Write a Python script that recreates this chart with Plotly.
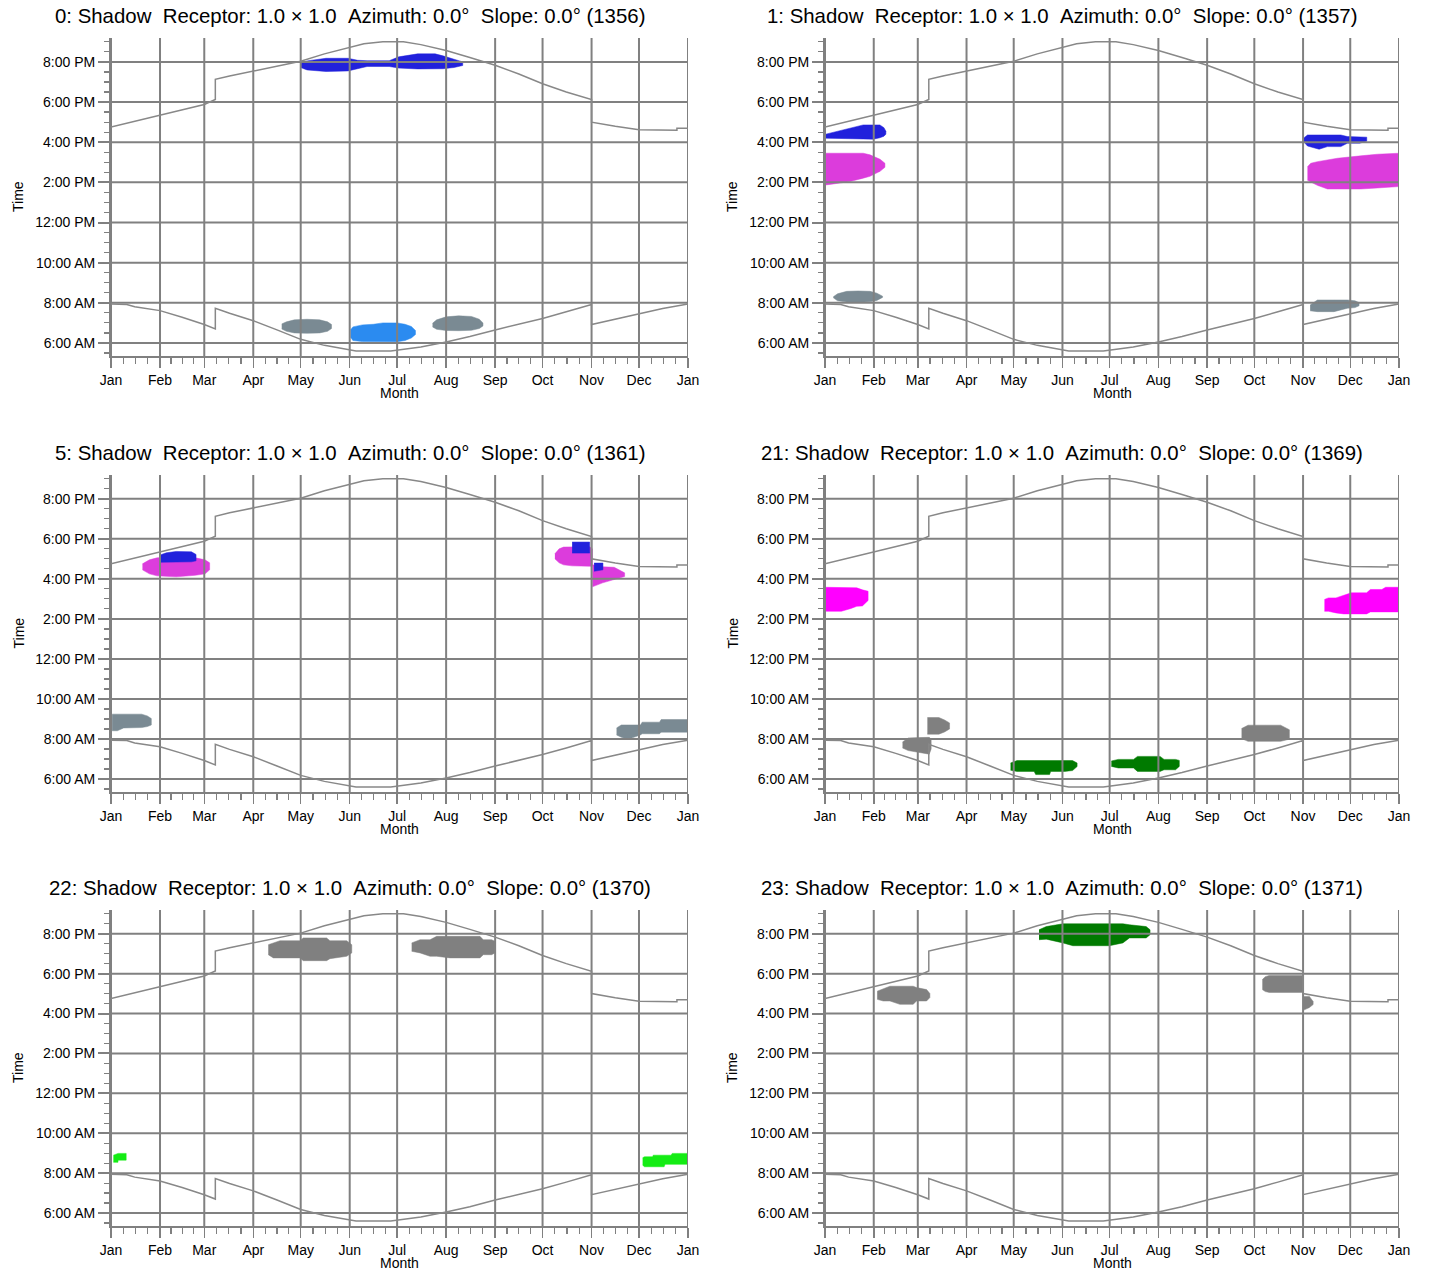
import plotly.graph_objects as go

W, H = 1429, 1272
OFF = 0  # page margin removed below via post_script

# ---------------- axis data ----------------
MONTH_DAYS = [0, 31, 59, 90, 120, 151, 181, 212, 243, 273, 304, 334, 365]
MONTH_LABELS = ['Jan', 'Feb', 'Mar', 'Apr', 'May', 'Jun', 'Jul', 'Aug', 'Sep', 'Oct', 'Nov', 'Dec', 'Jan']
HOUR_TICKS = [6, 8, 10, 12, 14, 16, 18, 20]
HOUR_LABELS = ['6:00 AM', '8:00 AM', '10:00 AM', '12:00 PM', '2:00 PM', '4:00 PM', '6:00 PM', '8:00 PM']
Y_RANGE = [5.35, 21.19]

# ---------------- sunrise / sunset (hours) ----------------
SUNSET_DAY = [0, 15, 31, 45, 59, 66, 66, 75, 90, 105, 120, 135, 151, 160, 172, 185, 196, 212, 227,
              243, 258, 273, 288, 304, 304, 319, 334, 349, 358, 358, 365]
SUNSET_HR = [16.75, 17.03, 17.36, 17.62, 17.88, 18.13, 19.13, 19.30, 19.54, 19.78, 20.03, 20.40, 20.74,
             20.90, 21.0, 21.0, 20.86, 20.57, 20.22, 19.83, 19.40, 18.91, 18.50, 18.12, 17.00, 16.79,
             16.62, 16.59, 16.59, 16.69, 16.69]
SUNRISE_DAY = [0, 10, 15, 31, 45, 59, 66, 66, 75, 90, 105, 120, 135, 148, 155, 177, 181, 196, 212,
               227, 243, 258, 273, 288, 304, 304, 319, 334, 349, 365]
SUNRISE_HR = [7.94, 7.92, 7.80, 7.61, 7.28, 6.92, 6.70, 7.73, 7.48, 7.11, 6.65, 6.18, 5.88, 5.68, 5.60,
              5.60, 5.64, 5.80, 6.05, 6.32, 6.65, 6.92, 7.22, 7.55, 7.92, 6.92, 7.18, 7.45, 7.72, 7.94]

# ---------------- shadow periods: day-of-year, end hour (top), start hour (bottom) ----------------
# panel 0 (1356)
P0_BLUE_DAY = [120, 124, 136, 150, 156, 162, 176, 182, 194, 205, 210, 217, 222.5]
P0_BLUE_TOP = [19.92, 20.05, 20.18, 20.18, 20.08, 20.06, 20.06, 20.25, 20.40, 20.40, 20.30, 20.15, 20.0]
P0_BLUE_BOT = [19.72, 19.60, 19.52, 19.55, 19.66, 19.77, 19.77, 19.69, 19.65, 19.65, 19.66, 19.72, 19.82]
P0_GRAY1_DAY = [108, 111, 116, 124, 132, 137, 139.5]
P0_GRAY1_TOP = [6.95, 7.05, 7.15, 7.18, 7.15, 7.05, 6.92]
P0_GRAY1_BOT = [6.70, 6.58, 6.50, 6.48, 6.50, 6.58, 6.72]
P0_LBLUE_DAY = [151.5, 153, 159, 166, 172, 181, 186, 190, 192.6]
P0_LBLUE_TOP = [6.65, 6.80, 6.90, 6.93, 7.0, 7.0, 6.93, 6.82, 6.62]
P0_LBLUE_BOT = [6.30, 6.12, 6.07, 6.06, 6.06, 6.06, 6.12, 6.25, 6.42]
P0_GRAY2_DAY = [203.4, 206, 212, 220, 228, 233, 235.3]
P0_GRAY2_TOP = [6.98, 7.15, 7.30, 7.35, 7.32, 7.18, 7.00]
P0_GRAY2_BOT = [6.80, 6.68, 6.62, 6.61, 6.63, 6.72, 6.85]

# panel 1 (1357)
P1_BLUE1_DAY = [0.5, 9.5, 18, 24.3, 30.7, 34.9, 37.5, 38.7]
P1_BLUE1_TOP = [16.40, 16.56, 16.73, 16.86, 16.86, 16.86, 16.72, 16.55]
P1_BLUE1_BOT = [16.20, 16.20, 16.18, 16.16, 16.15, 16.22, 16.30, 16.40]
P1_MAG1_DAY = [0.5, 5.3, 15.9, 24.3, 28.6, 32.8, 35, 38.1]
P1_MAG1_TOP = [15.45, 15.45, 15.45, 15.45, 15.37, 15.25, 15.15, 14.95]
P1_MAG1_BOT = [13.87, 13.92, 14.04, 14.21, 14.30, 14.45, 14.55, 14.75]
P1_GRAY1_DAY = [5.3, 8, 13.8, 21, 28.6, 33, 36.6]
P1_GRAY1_TOP = [8.30, 8.45, 8.57, 8.59, 8.57, 8.48, 8.33]
P1_GRAY1_BOT = [8.25, 8.10, 8.04, 8.03, 8.05, 8.12, 8.27]
P1_BLUE2_DAY = [304.3, 306.8, 314.2, 319.5, 328, 332.2, 340, 344.5]
P1_BLUE2_TOP = [16.20, 16.36, 16.36, 16.36, 16.36, 16.28, 16.28, 16.25]
P1_BLUE2_BOT = [16.03, 15.81, 15.65, 15.78, 15.78, 15.95, 15.95, 16.05]
P1_MAG2_DAY = [306.8, 308.9, 313.1, 319.5, 325.8, 340.7, 351.2, 365]
P1_MAG2_TOP = [14.78, 14.95, 15.03, 15.12, 15.20, 15.32, 15.40, 15.45]
P1_MAG2_BOT = [14.10, 14.04, 13.85, 13.67, 13.67, 13.67, 13.72, 13.79]
P1_GRAY2_DAY = [308.5, 313.1, 323.7, 332.2, 337, 339.6]
P1_GRAY2_TOP = [7.89, 8.14, 8.14, 8.14, 8.10, 8.01]
P1_GRAY2_BOT = [7.60, 7.56, 7.56, 7.73, 7.76, 7.85]

# panel 5 (1361)
P5_MAG1_DAY = [19.9, 24.3, 29.1, 41.2, 53.4, 59.5, 62.4]
P5_MAG1_TOP = [16.75, 16.95, 17.05, 17.10, 17.05, 16.95, 16.80]
P5_MAG1_BOT = [16.45, 16.25, 16.15, 16.10, 16.18, 16.25, 16.45]
P5_BLUE1_DAY = [31.6, 35, 41.2, 50.9, 53.8]
P5_BLUE1_TOP = [17.21, 17.30, 17.37, 17.35, 17.22]
P5_BLUE1_BOT = [16.83, 16.83, 16.85, 16.85, 16.90]
P5_MAG2_DAY = [280.8, 283.5, 286.3, 291.7, 302.8, 304.5]
P5_MAG2_TOP = [17.25, 17.50, 17.59, 17.60, 17.60, 17.50]
P5_MAG2_BOT = [17.00, 16.80, 16.70, 16.65, 16.63, 16.63]
P5_MAG3_DAY = [304.5, 311, 318.3, 324.9]
P5_MAG3_TOP = [16.71, 16.60, 16.58, 16.30]
P5_MAG3_BOT = [15.60, 15.80, 15.96, 16.12]
P5_BLUE2_DAY = [291.7, 302.8]
P5_BLUE2_TOP = [17.84, 17.84]
P5_BLUE2_BOT = [17.29, 17.29]
P5_BLUE3_DAY = [305.6, 311.2]
P5_BLUE3_TOP = [16.79, 16.79]
P5_BLUE3_BOT = [16.38, 16.45]
P5_GRAY1_DAY = [0.7, 4, 8, 19.4, 23, 25.5]
P5_GRAY1_TOP = [9.24, 9.24, 9.24, 9.24, 9.15, 9.02]
P5_GRAY1_BOT = [8.41, 8.41, 8.55, 8.57, 8.62, 8.70]
P5_GRAY2_DAY = [319.8, 322.8, 327, 334.9, 336, 347, 348, 365]
P5_GRAY2_TOP = [8.55, 8.70, 8.70, 8.70, 8.84, 8.84, 8.97, 8.97]
P5_GRAY2_BOT = [8.20, 8.09, 7.98, 8.20, 8.26, 8.26, 8.34, 8.34]

# panel 21 (1369)
P21_MAG1_DAY = [0.5, 10.4, 16.5, 20.2, 23.8, 27.4]
P21_MAG1_TOP = [15.58, 15.58, 15.58, 15.55, 15.45, 15.38]
P21_MAG1_BOT = [14.38, 14.38, 14.52, 14.63, 14.65, 14.92]
P21_MAG2_DAY = [317.6, 320.1, 324.9, 329.8, 334.6, 344.4, 346.8, 354.1, 356.5, 365]
P21_MAG2_TOP = [14.97, 15.05, 15.05, 15.18, 15.30, 15.30, 15.47, 15.47, 15.58, 15.58]
P21_MAG2_BOT = [14.38, 14.38, 14.30, 14.25, 14.25, 14.25, 14.35, 14.35, 14.35, 14.35]
P21_GRAY1_DAY = [65.1, 72.4, 76, 79.2]
P21_GRAY1_TOP = [9.07, 9.07, 8.95, 8.80]
P21_GRAY1_BOT = [8.24, 8.24, 8.35, 8.50]
P21_GRAY2_DAY = [49.3, 52.9, 60.2, 66.3, 67.5]
P21_GRAY2_TOP = [7.85, 8.05, 8.07, 8.08, 8.00]
P21_GRAY2_BOT = [7.55, 7.42, 7.33, 7.24, 7.50]
P21_GRAY3_DAY = [264.9, 269, 280, 289.7, 295.3]
P21_GRAY3_TOP = [8.52, 8.69, 8.69, 8.69, 8.46]
P21_GRAY3_BOT = [8.02, 7.88, 7.88, 7.88, 7.99]
P21_GRN1_DAY = [118, 122.1, 133, 134, 142.8, 143.5, 152.5, 157.4, 160.3]
P21_GRN1_TOP = [6.80, 6.92, 6.92, 6.92, 6.92, 6.92, 6.92, 6.92, 6.80]
P21_GRN1_BOT = [6.44, 6.38, 6.38, 6.22, 6.22, 6.38, 6.38, 6.42, 6.62]
P21_GRN2_DAY = [182.1, 186.5, 196.2, 198.7, 213.1, 215.6, 222.9, 225.3]
P21_GRN2_TOP = [6.90, 6.98, 6.98, 7.13, 7.13, 6.98, 6.98, 6.93]
P21_GRN2_BOT = [6.63, 6.55, 6.55, 6.38, 6.38, 6.46, 6.46, 6.63]

# panel 22 (1370)
P22_GRAY1_DAY = [99.5, 102.7, 106.9, 119.6, 121.6, 136.4, 138.5, 149.1, 152.3]
P22_GRAY1_TOP = [19.45, 19.55, 19.65, 19.65, 19.79, 19.79, 19.65, 19.65, 19.45]
P22_GRAY1_BOT = [18.95, 18.79, 18.79, 18.79, 18.65, 18.65, 18.75, 18.87, 19.04]
P22_GRAY2_DAY = [190.2, 195.5, 201.8, 206, 214.4, 233.4, 235.5, 240.8, 242.9]
P22_GRAY2_TOP = [19.54, 19.70, 19.70, 19.87, 19.87, 19.87, 19.70, 19.70, 19.62]
P22_GRAY2_BOT = [19.12, 19.04, 18.87, 18.87, 18.79, 18.79, 18.95, 18.95, 19.04]
P22_GRN1_DAY = [1.5, 4.4, 4.5, 9.6]
P22_GRN1_TOP = [8.90, 8.99, 8.99, 8.99]
P22_GRN1_BOT = [8.54, 8.54, 8.65, 8.65]
P22_GRN2_DAY = [336.3, 337.5, 342.6, 343, 349.9, 350.5, 354.3, 355, 365]
P22_GRN2_TOP = [8.77, 8.82, 8.82, 8.90, 8.90, 8.90, 8.90, 8.99, 8.99]
P22_GRN2_BOT = [8.40, 8.32, 8.32, 8.32, 8.32, 8.44, 8.44, 8.44, 8.44]

# panel 23 (1371)
P23_GRN_DAY = [136.1, 140.7, 151.3, 157.6, 180.9, 189.4, 193.6, 204.2, 206.7]
P23_GRN_TOP = [20.20, 20.36, 20.50, 20.50, 20.50, 20.50, 20.45, 20.36, 20.20]
P23_GRN_BOT = [19.70, 19.73, 19.54, 19.40, 19.40, 19.54, 19.79, 19.79, 19.95]
P23_GRAY1_DAY = [33.2, 37, 41.3, 47.6, 56.1, 58.2, 64.6, 66.7]
P23_GRAY1_TOP = [17.12, 17.25, 17.37, 17.37, 17.37, 17.30, 17.20, 17.00]
P23_GRAY1_BOT = [16.71, 16.63, 16.63, 16.46, 16.46, 16.63, 16.63, 16.80]
P23_GRAY2_DAY = [278.1, 280, 282.5, 304.1]
P23_GRAY2_TOP = [17.70, 17.85, 17.91, 17.91]
P23_GRAY2_BOT = [17.20, 17.10, 17.06, 17.06]
P23_GRAY3_DAY = [304.1, 308, 310.4]
P23_GRAY3_TOP = [16.86, 16.86, 16.60]
P23_GRAY3_BOT = [16.16, 16.30, 16.45]

# ---------------- colours ----------------
BLUE = '#2121DC'
LBLUE = '#2B8BF0'
SLATE = '#7A8A93'
MAG = '#DC3CDC'
MAG2 = '#FF00FF'
GRAY = '#808080'
DGREEN = '#007A00'
LGREEN = '#14EC14'
GRID = '#808080'
SUNC = '#888888'

TITLE_FMT = "{}: Shadow\u00a0\u00a0Receptor: 1.0 \u00d7 1.0\u00a0\u00a0Azimuth: 0.0\u00b0\u00a0\u00a0Slope: 0.0\u00b0 ({})"

PANELS = [
    dict(num=0, rid=1356, blobs=[
        (P0_BLUE_DAY, P0_BLUE_TOP, P0_BLUE_BOT, BLUE),
        (P0_GRAY1_DAY, P0_GRAY1_TOP, P0_GRAY1_BOT, SLATE),
        (P0_LBLUE_DAY, P0_LBLUE_TOP, P0_LBLUE_BOT, LBLUE),
        (P0_GRAY2_DAY, P0_GRAY2_TOP, P0_GRAY2_BOT, SLATE)]),
    dict(num=1, rid=1357, blobs=[
        (P1_BLUE1_DAY, P1_BLUE1_TOP, P1_BLUE1_BOT, BLUE),
        (P1_MAG1_DAY, P1_MAG1_TOP, P1_MAG1_BOT, MAG),
        (P1_GRAY1_DAY, P1_GRAY1_TOP, P1_GRAY1_BOT, SLATE),
        (P1_BLUE2_DAY, P1_BLUE2_TOP, P1_BLUE2_BOT, BLUE),
        (P1_MAG2_DAY, P1_MAG2_TOP, P1_MAG2_BOT, MAG),
        (P1_GRAY2_DAY, P1_GRAY2_TOP, P1_GRAY2_BOT, SLATE)]),
    dict(num=5, rid=1361, blobs=[
        (P5_MAG1_DAY, P5_MAG1_TOP, P5_MAG1_BOT, MAG),
        (P5_BLUE1_DAY, P5_BLUE1_TOP, P5_BLUE1_BOT, BLUE),
        (P5_MAG2_DAY, P5_MAG2_TOP, P5_MAG2_BOT, MAG),
        (P5_MAG3_DAY, P5_MAG3_TOP, P5_MAG3_BOT, MAG),
        (P5_BLUE2_DAY, P5_BLUE2_TOP, P5_BLUE2_BOT, BLUE),
        (P5_BLUE3_DAY, P5_BLUE3_TOP, P5_BLUE3_BOT, BLUE),
        (P5_GRAY1_DAY, P5_GRAY1_TOP, P5_GRAY1_BOT, SLATE),
        (P5_GRAY2_DAY, P5_GRAY2_TOP, P5_GRAY2_BOT, SLATE)]),
    dict(num=21, rid=1369, blobs=[
        (P21_MAG1_DAY, P21_MAG1_TOP, P21_MAG1_BOT, MAG2),
        (P21_MAG2_DAY, P21_MAG2_TOP, P21_MAG2_BOT, MAG2),
        (P21_GRAY1_DAY, P21_GRAY1_TOP, P21_GRAY1_BOT, GRAY),
        (P21_GRAY2_DAY, P21_GRAY2_TOP, P21_GRAY2_BOT, GRAY),
        (P21_GRAY3_DAY, P21_GRAY3_TOP, P21_GRAY3_BOT, GRAY),
        (P21_GRN1_DAY, P21_GRN1_TOP, P21_GRN1_BOT, DGREEN),
        (P21_GRN2_DAY, P21_GRN2_TOP, P21_GRN2_BOT, DGREEN)]),
    dict(num=22, rid=1370, blobs=[
        (P22_GRAY1_DAY, P22_GRAY1_TOP, P22_GRAY1_BOT, GRAY),
        (P22_GRAY2_DAY, P22_GRAY2_TOP, P22_GRAY2_BOT, GRAY),
        (P22_GRN1_DAY, P22_GRN1_TOP, P22_GRN1_BOT, LGREEN),
        (P22_GRN2_DAY, P22_GRN2_TOP, P22_GRN2_BOT, LGREEN)]),
    dict(num=23, rid=1371, blobs=[
        (P23_GRN_DAY, P23_GRN_TOP, P23_GRN_BOT, DGREEN),
        (P23_GRAY1_DAY, P23_GRAY1_TOP, P23_GRAY1_BOT, GRAY),
        (P23_GRAY2_DAY, P23_GRAY2_TOP, P23_GRAY2_BOT, GRAY),
        (P23_GRAY3_DAY, P23_GRAY3_TOP, P23_GRAY3_BOT, GRAY)]),
]

# ---------------- layout geometry (reference pixels) ----------------
COL_PX = [(111, 688), (825, 1399)]
ROW_PX = [(38, 356), (475, 792), (910, 1226)]

FONT = 'Liberation Sans, Arial, sans-serif'

minor_x = []
for i in range(12):
    s, e = MONTH_DAYS[i], MONTH_DAYS[i + 1]
    L = e - s
    minor_x += [s + L * k / 4 for k in (1, 2, 3)]


def px(xp):
    return (xp - OFF) / W


def py(yp):
    return 1 - (yp - OFF) / H


fig = go.Figure()
layout = dict(width=W, height=H, margin=dict(l=0, r=0, t=0, b=0, pad=0), autosize=False,
              plot_bgcolor='white', paper_bgcolor='white', showlegend=False,
              font=dict(family=FONT, size=14, color='black'))
annotations = []

for idx, p in enumerate(PANELS):
    r, c = divmod(idx, 2)
    n = idx + 1
    xs = '' if n == 1 else str(n)
    xref, yref = 'x' + xs, 'y' + xs
    x0, x1 = COL_PX[c]
    t, b = ROW_PX[r]

    for days, top, bot, col in p['blobs']:
        fig.add_trace(go.Scatter(
            x=list(days) + list(days)[::-1], y=list(top) + list(bot)[::-1],
            fill='toself', fillcolor=col, mode='lines', line=dict(color=col, width=0.5),
            xaxis=xref, yaxis=yref, hoverinfo='skip'))
    gx, gy = [], []
    for m in MONTH_DAYS:
        gx += [m, m, None]
        gy += [Y_RANGE[0], Y_RANGE[1], None]
    for hh in HOUR_TICKS:
        gx += [0, 365, None]
        gy += [hh, hh, None]
    fig.add_trace(go.Scatter(x=gx, y=gy, mode='lines', line=dict(color=GRID, width=2),
                             xaxis=xref, yaxis=yref, hoverinfo='skip', cliponaxis=False))
    fig.add_trace(go.Scatter(x=SUNSET_DAY, y=SUNSET_HR, mode='lines', line=dict(color=SUNC, width=1.5),
                             xaxis=xref, yaxis=yref, hoverinfo='skip'))
    fig.add_trace(go.Scatter(x=SUNRISE_DAY, y=SUNRISE_HR, mode='lines', line=dict(color=SUNC, width=1.5),
                             xaxis=xref, yaxis=yref, hoverinfo='skip'))

    layout['xaxis' + xs] = dict(
        domain=[px(x0), px(x1)], anchor=yref, range=[0, 365], showgrid=False, zeroline=False,
        automargin=False,
        showline=True, linecolor=GRID, linewidth=2,
        tickmode='array', tickvals=MONTH_DAYS, ticktext=MONTH_LABELS,
        ticks='outside', ticklen=10, tickwidth=1.5, tickcolor=GRID,
        tickfont=dict(size=14, family=FONT, color='black'),
        minor=dict(tickmode='array', tickvals=minor_x, ticks='outside', ticklen=6,
                   tickwidth=1.2, tickcolor=GRID, showgrid=False),
        fixedrange=True)
    layout['yaxis' + xs] = dict(
        domain=[py(b), py(t)], anchor=xref, range=Y_RANGE, showgrid=False, zeroline=False,
        automargin=False,
        showline=True, linecolor=GRID, linewidth=2,
        tickmode='array', tickvals=HOUR_TICKS, ticktext=HOUR_LABELS,
        ticks='outside', ticklen=11, tickwidth=2, tickcolor=GRID,
        tickfont=dict(size=14, family=FONT, color='black'),
        minor=dict(dtick=0.5, tick0=0, ticks='outside', ticklen=5, tickwidth=1.2,
                   tickcolor=GRID, showgrid=False),
        fixedrange=True)

    cx = (x0 + x1) / 2
    annotations.append(dict(text=TITLE_FMT.format(p['num'], p['rid']), x=px(cx - 50), y=py(t - 22),
                            xref='paper', yref='paper', showarrow=False, xanchor='center', yanchor='middle',
                            borderpad=0,
                            font=dict(size=20.4, family=FONT, color='black')))
    annotations.append(dict(text='Time', x=px(x0 - 93), y=py((t + b) / 2), textangle=-90,
                            xref='paper', yref='paper', showarrow=False, xanchor='center', yanchor='middle',
                            font=dict(size=14, family=FONT, color='black')))
    annotations.append(dict(text='Month', x=px(cx), y=py(b + 37),
                            xref='paper', yref='paper', showarrow=False, xanchor='center', yanchor='middle',
                            font=dict(size=14, family=FONT, color='black')))

layout['annotations'] = annotations
fig.update_layout(**layout)
fig.write_html('out.html', config={'displayModeBar': False, 'staticPlot': True},
               post_script="document.body.style.margin='0';document.body.style.overflow='hidden';")
